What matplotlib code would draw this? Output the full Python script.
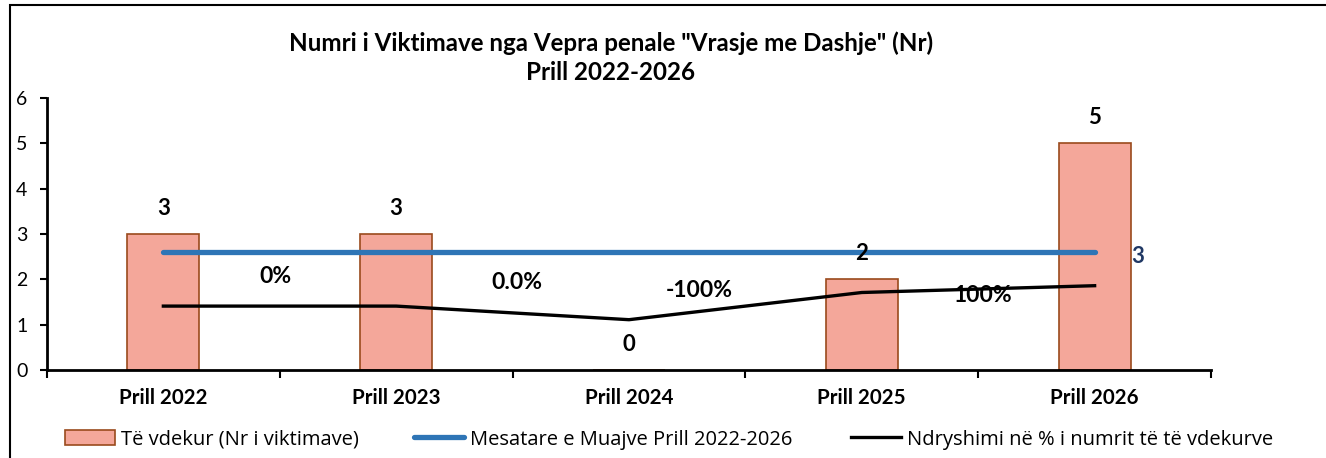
import numpy as np
import matplotlib
matplotlib.use("Agg")
import matplotlib.pyplot as plt
from matplotlib.patches import Rectangle

plt.rcParams["font.family"] = ["Lato", "DejaVu Sans"]

# data
categories = ["Prill 2022", "Prill 2023", "Prill 2024", "Prill 2025", "Prill 2026"]
victims = [3, 3, 0, 2, 5]
change_pct = [0, 0, -100, 100, 150]
change_labels = ["0%", "0.0%", "-100%", "100%"]
title = 'Numri i Viktimave nga Vepra penale "Vrasje me Dashje" (Nr)\nPrill 2022-2026'
legend_labels = ["Të vdekur (Nr i viktimave)",
                 "Mesatare e Muajve Prill 2022-2026",
                 "Ndryshimi në % i numrit të të vdekurve"]

bar_color = "#F4A79A"
bar_edge = "#9A4A1C"
avg_color = "#2E75B6"

x = np.arange(len(categories))
avg = np.mean(victims)

fig = plt.figure(figsize=(13.26, 4.58), dpi=100)
ax = fig.add_axes([0.0354, 0.1921, 0.8779, 0.5939])

bars = ax.bar(x, victims, width=0.31, color=bar_color, edgecolor=bar_edge,
              linewidth=1.2, zorder=2)
avg_line, = ax.plot(x, [avg] * len(x), color=avg_color, lw=3.8,
                    solid_capstyle="round", zorder=3)

# percent change sits on a hidden secondary scale
ax2 = ax.twinx()
ax2.set_ylim(-470, 1530)
chg_line, = ax2.plot(x, change_pct, color="black", lw=2.4, zorder=4)
ax2.axis("off")

ax.set_xlim(-0.5, len(x) - 0.5)
ax.set_ylim(0, 6)
ax.set_yticks(range(0, 7))
ax.set_xticks(x)
ax.set_xticklabels(categories, fontsize=14.8, fontweight="bold")
ax.set_xticks(np.arange(-0.5, len(x)), minor=True)
ax.tick_params(axis="x", which="major", length=0, pad=13)
ax.tick_params(axis="x", which="minor", length=6, width=1.5, direction="out")
ax.tick_params(axis="y", length=5, width=1.5, labelsize=14, pad=9)
for s in ["top", "right"]:
    ax.spines[s].set_visible(False)
for s in ["left", "bottom"]:
    ax.spines[s].set_linewidth(2)

for rect, v in zip(bars, victims):
    ax.annotate(str(v), (rect.get_x() + rect.get_width() / 2, v),
                xytext=(0, 18.5), textcoords="offset points",
                ha="center", va="center", fontsize=16, fontweight="bold")

ax.annotate(f"{avg:.0f}", (x[-1], avg), xytext=(31, -3), textcoords="offset points",
            ha="center", va="center", fontsize=16, fontweight="bold", color="#203864")

# percent labels placed between the years
label_offsets = [(-0.02, 2.07), (0.02, 1.94), (-0.2, 1.76), (0.02, 1.65)]
for i, (txt, (dx, ly)) in enumerate(zip(change_labels, label_offsets)):
    ax.text(x[i] + 0.5 + dx, ly, txt, ha="center", va="center",
            fontsize=16.5, fontweight="bold", zorder=5)

fig.text(0.4605, 0.874, title, ha="center", va="center", fontsize=17.4,
         fontweight="bold", linespacing=1.27)

# legend entries placed one by one so the keys line up with the reference
handles = [bars, avg_line, chg_line]
key_x = [65, 414, 851]
for h, lab, kx in zip(handles, legend_labels, key_x):
    fig.legend([h], [lab], loc="center left", bbox_to_anchor=(kx / 1326, 0.04),
               frameon=False, prop={"family": ["Open Sans", "DejaVu Sans"], "size": 14.5},
               handlelength=2.5, handleheight=0.75, handletextpad=0.3,
               borderpad=0, borderaxespad=0)

fig.add_artist(Rectangle((10 / 1326, -0.2), 1.2, 1.2 - 5 / 458, transform=fig.transFigure,
                         fill=False, edgecolor="black", lw=1.5))

fig.savefig("out.png", dpi=100)
plt.close(fig)
